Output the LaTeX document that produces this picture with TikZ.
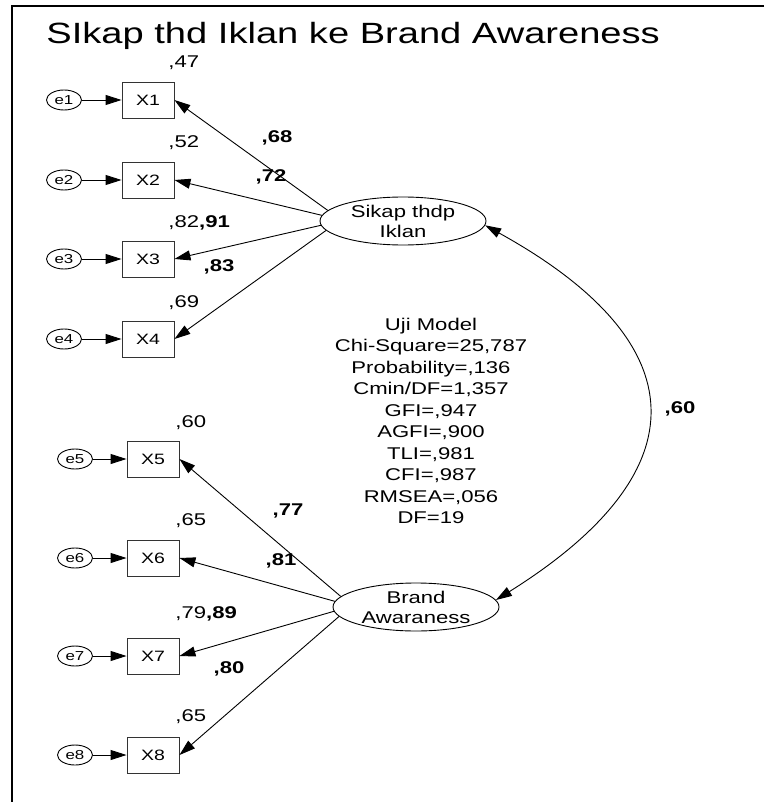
\documentclass[tikz,border=0pt]{standalone}
\usepackage{fontspec}
\setmainfont{Liberation Sans}[FakeStretch=1.3]
\usetikzlibrary{arrows.meta,shapes.geometric}

\begin{document}
\begin{tikzpicture}[x=1pt,y=-1pt,
  line width=0.9pt,
  >={Triangle[length=16pt,width=10pt]},
  obs/.style={draw=black!80, minimum width=52pt, minimum height=36pt, inner sep=0pt,
    font=\fontsize{15}{18}\selectfont},
  err/.style={ellipse, draw, minimum width=35pt, minimum height=20pt, inner sep=0pt,
    font=\fontsize{13}{15}\selectfont},
  lat/.style={ellipse, draw, minimum width=166pt, minimum height=48pt, inner sep=0pt,
    align=center, font=\fontsize{17}{20}\selectfont},
  val/.style={inner sep=0pt, anchor=west, font=\fontsize{17}{20}\selectfont},
  wt/.style={inner sep=0pt, font=\bfseries\fontsize{17}{20}\selectfont},
  fitbox/.style={inner sep=0pt, align=center, font=\fontsize{17}{21.5}\selectfont}
]
\useasboundingbox (0,0) rectangle (764,802);

% frame
\draw[line width=2pt] (764,6) -- (12,6) -- (12,802);

% title
\node[anchor=base west, inner sep=0pt, font=\fontsize{29.3}{35}\selectfont] (title) at (46,44)
  {SIkap thd Iklan ke Brand Awareness};

% indicators of the first construct
\foreach \i/\y in {1/100,2/180,3/259,4/339}{
  \node[err] (e\i) at (64,\y) {e\i};
  \node[obs] (X\i) at (148,\y) {X\i};
  \draw[->] (e\i) -- (X\i);
}
% indicators of the second construct
\foreach \i/\y in {5/459,6/558,7/656,8/755}{
  \node[err] (e\i) at (75,\y) {e\i};
  \node[obs] (X\i) at (153,\y) {X\i};
  \draw[->] (e\i) -- (X\i);
}

% latent variables
\node[lat] (S) at (403,221) {Sikap thdp\\Iklan};
\node[lat] (B) at (416,607) {Brand\\Awaraness};

% loadings
\draw[->] (S.172) -- (X1.east);
\draw[->] (S.176) -- (X2.east);
\draw[->] (S.183) -- (X3.east);
\draw[->] (S.187) -- (X4.east);
\draw[->] (B.172.4) -- (X5.east);
\draw[->] (B.176.6) -- (X6.east);
\draw[->] (B.183.4) -- (X7.east);
\draw[->] (B.187.6) -- (X8.east);

% covariance
\coordinate (c1) at (698,343);
\coordinate (c2) at (702,471);
\draw[<->] (S.-3) .. controls (c1) and (c2) .. (B.5);

% squared multiple correlations
\node[val] (v1) at (168,63) {,47};
\node[val] (v2) at (168,143) {,52};
\node[val] (v3) at (168,223) {,82{\bfseries,91}};
\node[val] (v4) at (168,303) {,69};
\node[val] (v5) at (175,423) {,60};
\node[val] (v6) at (175,521) {,65};
\node[val] (v7) at (175,614) {,79{\bfseries,89}};
\node[val] (v8) at (175,717) {,65};

% standardized weights
\node[wt] (w1) at (277,138) {,68};
\node[wt] (w2) at (271,177) {,72};
\node[wt] (w4) at (219,267) {,83};
\node[wt] (w5) at (288,511) {,77};
\node[wt] (w6) at (281,561) {,81};
\node[wt] (w8) at (229,669) {,80};
\node[wt] (wc) at (680,409) {,60};

% fit indices
\node[fitbox] (fit) at (431,421) {Uji Model\\Chi-Square=25,787\\Probability=,136\\Cmin/DF=1,357\\GFI=,947\\AGFI=,900\\TLI=,981\\CFI=,987\\RMSEA=,056\\DF=19};
\end{tikzpicture}
\end{document}
